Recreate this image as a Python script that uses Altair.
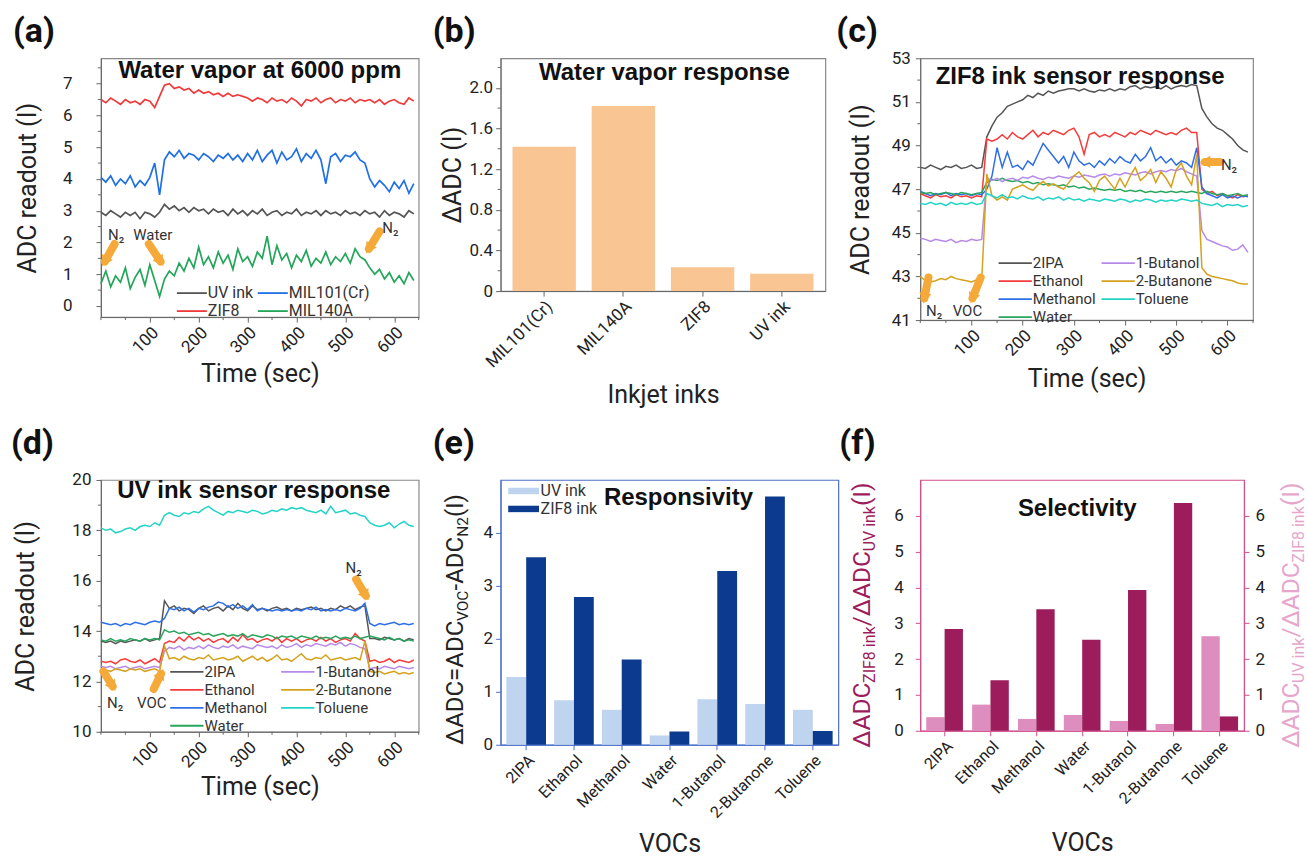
import math
import altair as alt
import pandas as pd

FONT = "Roboto"
BOLD_FONT = "Liberation Sans"
ORANGE = "#F4A938"

# ---------------- data ----------------
T = list(range(0, 641, 10))  # sample times (sec)

# (a) water vapor at 6000 ppm (legend order, filled column by column)
A_SERIES = ["UV ink", "ZIF8", "MIL101(Cr)", "MIL140A"]
A_COLORS = ["#555555", "#F03A3A", "#1F6FE5", "#23A55A"]
A_UV = [2.95, 2.85, 3.0, 2.9, 2.8, 2.95, 2.85, 2.95, 2.75, 2.95,
        2.9, 2.8, 2.95, 3.2, 3.05, 3.15, 3.0, 3.1, 2.95, 3.1,
        3.0, 3.05, 2.9, 3.05, 2.95, 3.0, 2.85, 3.05, 2.9, 3.0,
        2.85, 3.0, 2.9, 3.05, 2.85, 2.95, 3.0, 2.85, 2.95, 2.9,
        3.05, 2.85, 2.95, 2.9, 3.0, 2.85, 3.0, 2.9, 2.95, 2.85,
        3.0, 2.9, 2.95, 2.85, 3.0, 2.9, 2.95, 2.8, 3.0, 2.85,
        2.95, 2.9, 2.8, 3.0, 2.9]
A_MIL101 = [4.05, 3.9, 4.1, 3.8, 4.0, 3.85, 4.1, 3.75, 3.95, 3.8,
            4.05, 4.5, 3.5, 4.6, 4.85, 4.7, 4.9, 4.65, 4.8, 4.75,
            4.6, 4.8, 4.7, 4.55, 4.75, 4.65, 4.8, 4.6, 4.75, 4.55,
            4.8, 4.6, 4.9, 4.55, 4.75, 4.9, 4.5, 4.85, 4.6, 4.7,
            4.95, 4.55, 4.8, 4.65, 4.9, 4.6, 3.85, 4.7, 4.8, 4.55,
            4.75, 4.7, 4.85, 4.6, 4.5, 4.0, 3.75, 3.95, 3.8, 3.6,
            3.9, 3.7, 3.95, 3.55, 3.85]
A_ZIF8 = [6.5, 6.4, 6.55, 6.45, 6.35, 6.5, 6.4, 6.45, 6.35, 6.5,
          6.45, 6.25, 6.6, 6.95, 7.0, 6.85, 6.9, 6.8, 6.85, 6.7,
          6.8, 6.7, 6.75, 6.65, 6.7, 6.6, 6.7, 6.6, 6.65, 6.6,
          6.55, 6.45, 6.55, 6.5, 6.4, 6.55, 6.45, 6.5, 6.4, 6.55,
          6.45, 6.3, 6.5, 6.45, 6.55, 6.4, 6.5, 6.55, 6.4, 6.5,
          6.45, 6.55, 6.4, 6.5, 6.45, 6.5, 6.4, 6.5, 6.35, 6.45,
          6.5, 6.4, 6.35, 6.55, 6.45]
A_MIL140 = [0.7, 1.1, 0.6, 0.95, 0.75, 1.2, 0.55, 0.9, 1.15, 0.65,
            1.3, 0.8, 0.3, 0.85, 1.1, 0.95, 1.35, 1.1, 1.5, 1.2,
            1.85, 1.3, 1.55, 1.2, 1.7, 1.35, 1.6, 1.15, 1.8, 1.4,
            1.55, 1.25, 1.7, 1.5, 2.2, 1.3, 1.9, 1.45, 1.65, 1.2,
            1.6, 1.4, 1.75, 1.25, 1.5, 1.35, 1.7, 1.3, 1.55, 1.4,
            1.65, 1.35, 1.8, 1.55, 1.45, 1.2, 1.0, 1.15, 0.85, 1.05,
            0.75, 0.95, 0.7, 1.05, 0.8]

# (b) water vapor response
B_INKS = ["MIL101(Cr)", "MIL140A", "ZIF8", "UV ink"]
B_VALS = [1.42, 1.82, 0.235, 0.17]

# (c)/(d) VOC series
VOCS = ["2IPA", "Ethanol", "Methanol", "Water", "1-Butanol", "2-Butanone", "Toluene"]
VOC_COLORS = ["#555555", "#F53B3B", "#2F6FE6", "#2AA55E", "#B88AE8", "#D4A21C", "#22D3C8"]

C_2IPA = [48.0, 47.95, 48.1, 48.0, 47.9, 48.05, 48.0, 48.1, 47.95, 48.0,
          48.1, 47.95, 48.0, 49.4, 49.9, 50.3, 50.5, 50.8, 50.9, 51.0,
          51.1, 51.3, 51.2, 51.4, 51.3, 51.5, 51.4, 51.5, 51.55, 51.6,
          51.6, 51.5, 51.6, 51.5, 51.45, 51.55, 51.5, 51.6, 51.5, 51.6,
          51.55, 51.7, 51.75, 51.6, 51.7, 51.65, 51.7, 51.6, 51.75, 51.6,
          51.7, 51.75, 51.7, 51.8, 51.75, 50.7, 50.3, 50.0, 49.8, 49.7,
          49.5, 49.3, 49.0, 48.8, 48.7]
C_ETH = [46.8, 46.7, 46.6, 46.75, 46.65, 46.7, 46.6, 46.75, 46.65, 46.7,
         46.6, 46.7, 46.65, 49.3, 49.2, 49.3, 49.5, 49.3, 49.6, 49.4,
         49.3, 49.5, 49.7, 49.4, 49.6, 49.5, 49.7, 49.6, 49.5, 49.7,
         49.8, 49.4, 48.6, 49.5, 49.6, 49.4, 49.5, 49.4, 49.6, 49.5,
         49.4, 49.6, 49.5, 49.7, 49.6, 49.5, 49.7, 49.6, 49.5, 49.6,
         49.5, 49.7, 49.8, 49.6, 49.6, 47.0, 46.8, 46.9, 46.7, 46.8,
         46.7, 46.6, 46.75, 46.65, 46.7]
C_MET = [46.9, 46.8, 46.7, 46.8, 46.75, 46.85, 46.7, 46.8, 46.75, 46.8,
         46.7, 46.8, 46.75, 47.0, 47.6, 48.9, 48.0, 48.7, 48.0, 48.1,
         47.9, 48.3, 48.1, 48.6, 49.1, 48.8, 48.5, 48.2, 48.5, 48.0,
         48.7, 48.3, 48.1, 48.2, 48.0, 48.3, 48.1, 48.4, 48.2, 48.5,
         48.3, 48.2, 48.6, 48.3, 48.5, 48.9, 48.3, 48.5, 48.2, 48.4,
         48.1, 48.3, 48.2, 48.0, 48.9, 47.1, 46.8, 46.7, 46.6, 46.75,
         46.6, 46.7, 46.6, 46.7, 46.65]
C_WAT = [46.85, 46.8, 46.85, 46.75, 46.8, 46.85, 46.8, 46.75, 46.85, 46.8,
         46.75, 46.8, 46.85, 47.3, 47.45, 47.4, 47.5, 47.4, 47.35, 47.4,
         47.3, 47.35, 47.25, 47.3, 47.2, 47.25, 47.2, 47.15, 47.2, 47.1,
         47.15, 47.05, 47.1, 47.0, 47.05, 47.0, 46.95, 47.0, 46.95, 47.0,
         46.9, 46.95, 46.9, 46.95, 46.85, 46.9, 46.85, 46.9, 46.85, 46.9,
         46.85, 46.9, 46.85, 46.9, 46.85, 46.8, 46.9, 46.8, 46.75, 46.8,
         46.7, 46.75, 46.8, 46.7, 46.75]
C_TOL = [46.35, 46.3, 46.4, 46.3, 46.35, 46.25, 46.4, 46.3, 46.35, 46.3,
         46.4, 46.3, 46.35, 46.8, 46.7, 46.6, 46.75, 46.6, 46.65, 46.55,
         46.7, 46.6, 46.55, 46.65, 46.5, 46.6, 46.55, 46.65, 46.5, 46.6,
         46.5, 46.55, 46.45, 46.55, 46.5, 46.45, 46.55, 46.5, 46.45, 46.55,
         46.5, 46.4, 46.5, 46.45, 46.55, 46.5, 46.4, 46.5, 46.45, 46.5,
         46.45, 46.55, 46.5, 46.45, 46.5, 46.35, 46.3, 46.25, 46.35, 46.2,
         46.3, 46.25, 46.3, 46.2, 46.25]
C_BUT = [44.75, 44.7, 44.6, 44.7, 44.65, 44.6, 44.7, 44.55, 44.65, 44.6,
         44.7, 44.65, 44.7, 47.5, 47.4, 47.5, 47.35, 47.45, 47.5, 47.4,
         47.55, 47.5, 47.6, 47.5, 47.45, 47.55, 47.5, 47.6, 47.55, 47.5,
         47.6, 47.55, 47.65, 47.6, 47.55, 47.65, 47.7, 47.6, 47.7, 47.65,
         47.75, 47.7, 47.65, 47.75, 47.8, 47.7, 47.8, 47.85, 47.8, 47.9,
         47.85, 47.95, 47.8, 47.7, 47.6, 45.1, 44.7, 44.6, 44.5, 44.4,
         44.35, 44.2, 44.25, 44.45, 44.1]
C_BTN = [43.0, 42.8, 42.75, 42.8, 42.9, 42.85, 43.0, 42.9, 42.85, 42.8,
         42.75, 42.85, 42.8, 47.7, 46.7, 46.5, 46.65, 46.5, 47.0, 47.1,
         47.2, 47.05, 46.95, 47.2, 47.35, 47.15, 47.25, 47.1, 47.0, 47.3,
         47.6, 47.8, 47.5, 47.3, 46.9, 47.4, 47.6, 47.3, 47.0, 47.5,
         47.1, 47.6, 48.0, 47.4, 47.6, 47.9, 47.3, 47.8, 47.5, 47.1,
         47.9, 48.2, 47.6, 47.2, 48.6, 43.4, 43.1, 43.0, 42.95, 42.9,
         42.85, 42.8, 42.7, 42.65, 42.65]

D_2IPA = [13.6, 13.55, 13.6, 13.5, 13.6, 13.55, 13.6, 13.65, 13.6, 13.7,
          13.6, 13.65, 13.7, 15.2, 14.9, 15.0, 14.8, 14.9, 14.85, 14.7,
          14.9, 15.0, 14.8, 14.9, 14.95, 14.8, 15.0, 14.85, 15.1, 14.9,
          14.8, 15.0, 14.85, 14.9, 14.8, 14.9, 14.95, 14.85, 14.9, 14.8,
          14.9, 14.85, 14.9, 14.95, 14.85, 14.9, 14.8, 14.9, 14.85, 15.0,
          14.9, 15.0, 14.85, 14.95, 15.0, 13.7, 13.7, 13.65, 13.75, 13.7,
          13.65, 13.7, 13.6, 13.7, 13.65]
D_ETH = [12.8, 12.75, 12.8, 12.7, 12.85, 12.9, 12.8, 12.75, 12.85, 12.7,
         12.8, 12.9, 12.75, 13.5, 13.6, 13.55, 13.75, 13.6, 13.8, 13.65,
         13.75, 13.6, 13.7, 13.55, 13.65, 13.7, 13.55, 13.75, 13.6, 13.85,
         13.65, 13.7, 13.55, 13.65, 13.7, 13.6, 13.75, 13.55, 13.7, 13.6,
         13.7, 13.55, 13.65, 13.7, 13.6, 13.75, 13.6, 13.7, 13.55, 13.65,
         13.7, 13.6, 13.9, 13.7, 13.6, 12.8, 12.85, 12.75, 12.8, 12.9,
         12.75, 12.85, 12.8, 12.75, 12.85]
D_MET = [14.35, 14.3, 14.25, 14.3, 14.2, 14.3, 14.25, 14.35, 14.3, 14.25,
         14.35, 14.4, 14.35, 14.5, 14.9, 14.85, 14.95, 14.8, 14.9, 14.75,
         14.9, 14.85, 14.95, 15.0, 15.15, 15.1, 14.95, 15.05, 14.9, 15.0,
         14.85, 15.05, 14.8, 14.9, 14.85, 14.8, 14.85, 14.8, 14.85, 14.8,
         14.85, 14.8, 14.9, 14.85, 14.95, 14.8, 14.85, 14.8, 14.85, 14.8,
         14.9, 14.85, 14.8, 14.9, 15.1, 14.3, 14.2, 14.3, 14.25, 14.3,
         14.35, 14.25, 14.3, 14.25, 14.3]
D_WAT = [13.65, 13.6, 13.7, 13.6, 13.65, 13.6, 13.7, 13.65, 13.6, 13.7,
         13.65, 13.7, 13.65, 14.05, 13.95, 14.0, 13.9, 13.95, 13.85, 13.9,
         13.95, 13.85, 13.9, 13.8, 13.85, 13.9, 13.8, 13.85, 13.8, 13.9,
         13.75, 13.85, 13.8, 13.75, 13.85, 13.8, 13.7, 13.8, 13.75, 13.8,
         13.7, 13.8, 13.75, 13.7, 13.8, 13.7, 13.75, 13.7, 13.8, 13.7,
         13.75, 13.7, 13.8, 13.7, 13.75, 13.8, 13.75, 13.7, 13.65, 13.75,
         13.65, 13.7, 13.6, 13.65, 13.6]
D_BUT = [12.6, 12.55, 12.6, 12.5, 12.55, 12.6, 12.5, 12.55, 12.6, 12.5,
         12.55, 12.6, 12.55, 13.2, 13.35, 13.3, 13.4, 13.25, 13.35, 13.3,
         13.4, 13.3, 13.45, 13.35, 13.3, 13.4, 13.35, 13.45, 13.3, 13.4,
         13.35, 13.3, 13.45, 13.4, 13.35, 13.4, 13.3, 13.45, 13.35, 13.4,
         13.5, 13.35, 13.45, 13.4, 13.5, 13.45, 13.4, 13.5, 13.45, 13.55,
         13.4, 13.5, 13.45, 13.35, 13.3, 12.5, 12.55, 12.5, 12.6, 12.55,
         12.5, 12.6, 12.55, 12.5, 12.55]
D_BTN = [12.5, 12.45, 12.4, 12.5, 12.45, 12.4, 12.5, 12.45, 12.5, 12.4,
         12.45, 12.5, 12.4, 13.4, 12.9, 12.95, 12.85, 13.0, 12.9, 12.85,
         12.95, 12.9, 13.05, 12.85, 12.9, 12.95, 12.85, 12.9, 13.0, 12.8,
         12.9, 13.0, 12.85, 12.95, 12.8, 12.9, 13.05, 12.85, 12.9, 12.8,
         12.95, 13.1, 12.9, 12.85, 12.95, 12.9, 13.05, 12.85, 12.9, 12.95,
         12.85, 12.9, 12.95, 12.85, 13.6, 12.4, 12.35, 12.4, 12.3, 12.35,
         12.4, 12.3, 12.35, 12.3, 12.35]
D_TOL = [18.1, 18.0, 18.05, 17.9, 17.95, 18.05, 18.1, 18.0, 18.15, 18.2,
         18.15, 18.3, 18.2, 18.6, 18.7, 18.6, 18.55, 18.7, 18.65, 18.75,
         18.7, 18.85, 18.95, 18.8, 18.7, 18.6, 18.75, 18.7, 18.8, 18.75,
         18.7, 18.8, 18.75, 18.65, 18.7, 18.8, 18.75, 18.85, 18.8, 18.9,
         18.85, 18.9, 18.8, 18.75, 18.7, 18.8, 18.65, 18.95, 18.7, 18.75,
         18.8, 18.65, 18.7, 18.6, 18.55, 18.3, 18.2, 18.15, 18.2, 18.3,
         18.1, 18.25, 18.35, 18.2, 18.15]

# (e) responsivity
E_UV = [1.28, 0.84, 0.66, 0.175, 0.86, 0.77, 0.66]
E_ZIF8 = [3.54, 2.79, 1.61, 0.25, 3.28, 4.69, 0.26]

# (f) selectivity
F_ZIF8_UV = [2.84, 1.41, 3.39, 2.54, 3.93, 6.36, 0.40]
F_UV_ZIF8 = [0.38, 0.73, 0.33, 0.44, 0.27, 0.19, 2.64]

# annotations (time, value, text) and arrows (tail t, tail v, head t, head v)
A_NOTES = [(31, 2.25, "N\u2082"), (106, 2.25, "Water"), (592, 2.45, "N\u2082")]
A_ARROWS = [(28, 1.95, 8, 1.4), (98, 1.95, 122, 1.4), (570, 2.35, 548, 1.8)]
C_NOTES = [(27, 41.4, "N\u2082"), (92, 41.4, "VOC"), (603, 48.1, "N\u2082")]
C_ARROWS = [(16, 42.95, 8, 42.0), (118, 42.95, 102, 42.0), (585, 48.25, 556, 48.25)]
D_NOTES = [(29, 11.15, "N\u2082"), (104, 11.15, "VOC"), (517, 16.5, "N\u2082")]
D_ARROWS = [(5, 12.4, 24, 11.8), (108, 11.7, 123, 12.3), (522, 16.05, 542, 15.4)]

# minor tick positions
MINOR_T = [0, 50, 150, 250, 350, 450, 550, 650]
A_MINOR_Y = [0.5, 1.5, 2.5, 3.5, 4.5, 5.5, 6.5, 7.5]
B_MINOR_Y = [0.2, 0.6, 1.0, 1.4, 1.8, 2.2]
C_MINOR_Y = [42, 44, 46, 48, 50, 52]
D_MINOR_Y = [11, 13, 15, 17, 19]

# ---------------- helpers ----------------
ONE = pd.DataFrame({"k": [0]})

ROBOTO_W = {"\u0394": 0.69, "A": 0.652, "D": 0.655, "C": 0.652, "=": 0.55, "V": 0.636,
            "O": 0.688, "-": 0.276, "N": 0.713, "2": 0.562, " ": 0.248, "(": 0.342,
            "I": 0.279, ")": 0.348, "Z": 0.6, "F": 0.553, "8": 0.562, "i": 0.243,
            "n": 0.552, "k": 0.507, "U": 0.648, "/": 0.411}


def text_w(s, size):
    return sum(ROBOTO_W.get(c, 0.55) for c in s) * size


def series_df(names, arrays):
    rows = []
    for n, arr in zip(names, arrays):
        assert len(arr) == len(T), n
        for t, v in zip(T, arr):
            rows.append({"t": t, "v": v, "s": n})
    return pd.DataFrame(rows)


def txt(text, x, y, size, bold=False, align="left", baseline="top", font=FONT,
        color="#111111", angle=None):
    kw = dict(text=text, font=font, fontSize=size, align=align, baseline=baseline,
              color=color, fontWeight="bold" if bold else "normal")
    if angle is not None:
        kw["angle"] = angle
    return alt.Chart(ONE).mark_text(**kw).encode(x=alt.value(x), y=alt.value(y))


def panel_label(s, x, y):
    return txt(s, x, y, 34, bold=True, font=FONT)


def inner_title(s, x, y):
    return txt(s, x, y, 24, bold=True, align="center", baseline="middle", font=BOLD_FONT)


def rot_title(segs, x, y_bottom, color, main=22, sub=14):
    out = []
    y = y_bottom
    for s, is_sub in segs:
        fs = sub if is_sub else main
        out.append(txt(s, x + (5 if is_sub else 0), y, fs, align="left",
                       baseline="alphabetic", color=color, angle=270))
        y -= text_w(s, fs)
    return out


def line_legend(x, y, half, col_pad, font_size):
    return alt.Legend(orient="none", legendX=x, legendY=y, columns=2, title=None,
                      symbolType=f"M-{half},0H{half}", symbolSize=324, symbolStrokeWidth=1.8,
                      labelFontSize=font_size, columnPadding=col_pad, rowPadding=-1,
                      labelOffset=9 * half - 9, labelColor="#333333", padding=0)


def minor_ticks(xvals, yvals, xs, ys, xax, yax, h):
    out = []
    if xvals:
        out.append(alt.Chart(pd.DataFrame({"t": xvals})).mark_rule(color="#666666").encode(
            x=alt.X("t:Q", scale=xs, axis=xax), y=alt.value(h), y2=alt.value(h + 3)))
    if yvals:
        out.append(alt.Chart(pd.DataFrame({"v": yvals})).mark_rule(color="#666666").encode(
            y=alt.Y("v:Q", scale=ys, axis=yax), x=alt.value(0), x2=alt.value(-3)))
    return out


def annotations(notes, arrows, xsc, ysc, xax, yax, pxx, pxy):
    ndf = pd.DataFrame(notes, columns=["t", "v", "label"])
    adf = pd.DataFrame(arrows, columns=["t", "v", "t2", "v2"])
    adf["ang"] = [(math.degrees(math.atan2(-(r.v2 - r.v) * pxy, (r.t2 - r.t) * pxx)) + 90) % 360
                  for r in adf.itertuples()]
    texts = alt.Chart(ndf).mark_text(font=FONT, fontSize=15, color="#333333").encode(
        x=alt.X("t:Q", scale=xsc, axis=xax), y=alt.Y("v:Q", scale=ysc, axis=yax), text="label:N")
    rule = alt.Chart(adf).mark_rule(color=ORANGE, strokeWidth=8, strokeCap="round").encode(
        x=alt.X("t:Q", scale=xsc, axis=xax), y=alt.Y("v:Q", scale=ysc, axis=yax),
        x2="t2:Q", y2="v2:Q")
    head = alt.Chart(adf).mark_point(shape="triangle-up", filled=True, color=ORANGE,
                                     opacity=1, size=150).encode(
        x=alt.X("t2:Q", scale=xsc, axis=xax), y=alt.Y("v2:Q", scale=ysc, axis=yax),
        angle=alt.Angle("ang:Q", scale=None))
    return [rule, head, texts]


def time_axis(tp):
    return alt.Axis(values=[100, 200, 300, 400, 500, 600], labelAngle=-45, title="Time (sec)",
                    titlePadding=tp, labelPadding=2)


# ---------------- panel (a) ----------------
AW, AH = 318, 259
a_xs = alt.Scale(domain=[0, 650], nice=False, zero=False)
a_ys = alt.Scale(domain=[-0.35, 7.8], nice=False, zero=False)
a_xax = time_axis(6)
a_yax = alt.Axis(values=list(range(0, 8)), title="ADC readout (I)", labelPadding=24, titlePadding=22)
a_df = series_df(A_SERIES, [A_UV, A_ZIF8, A_MIL101, A_MIL140])
a_lines = alt.Chart(a_df).mark_line(strokeWidth=1.7).encode(
    x=alt.X("t:Q", scale=a_xs, axis=a_xax),
    y=alt.Y("v:Q", scale=a_ys, axis=a_yax),
    color=alt.Color("s:N", scale=alt.Scale(domain=A_SERIES, range=A_COLORS),
                    legend=line_legend(81, 225, 1.67, 0, 16)),
    detail="s:N")
panel_a = alt.layer(
    a_lines,
    *minor_ticks(MINOR_T, A_MINOR_Y, a_xs, a_ys, a_xax, a_yax, AH),
    *annotations(A_NOTES, A_ARROWS, a_xs, a_ys, a_xax, a_yax, AW / 650, AH / 8.15),
    inner_title("Water vapor at 6000 ppm", 159, 13),
    panel_label("(a)", -88, -43),
).properties(width=AW, height=AH, view=alt.ViewBackground(stroke="#888888", strokeWidth=1.2))

# ---------------- panel (b) ----------------
BW, BH = 325, 233
b_df = pd.DataFrame({"ink": B_INKS, "v": B_VALS})
b_ys = alt.Scale(domain=[0, 2.29], nice=False)
b_yax = alt.Axis(values=[0, 0.4, 0.8, 1.2, 1.6, 2.0],
                 labelExpr="datum.value == 0 ? '0' : format(datum.value, '.1f')",
                 title="\u0394ADC (I)", titlePadding=4, labelPadding=3)
b_bars = alt.Chart(b_df).mark_bar(color="#F9C592").encode(
    x=alt.X("ink:N", sort=B_INKS, scale=alt.Scale(paddingInner=0.2, paddingOuter=0.15),
            axis=alt.Axis(labelAngle=-45, title="Inkjet inks", titlePadding=12, labelFontSize=17)),
    y=alt.Y("v:Q", scale=b_ys, axis=b_yax))
b_minor = alt.Chart(pd.DataFrame({"v": B_MINOR_Y})).mark_rule(color="#666666").encode(
    y=alt.Y("v:Q", scale=b_ys, axis=b_yax), x=alt.value(0), x2=alt.value(-3))
panel_b = alt.layer(
    b_bars, b_minor,
    inner_title("Water vapor response", 164, 15),
    panel_label("(b)", -68, -43),
).properties(width=BW, height=BH, view=alt.ViewBackground(stroke="#888888", strokeWidth=1.2))


# ---------------- panels (c) and (d) ----------------
def voc_panel(arrays, w, h, ydom, yvals, yminor, ytp, xtp, legx, legy, colpad, notes, arrows,
              title, tx, ty, lab, lx, ly):
    xs = alt.Scale(domain=[0, 650], nice=False, zero=False)
    ys = alt.Scale(domain=ydom, nice=False, zero=False)
    xax = time_axis(xtp)
    yax = alt.Axis(values=yvals, title="ADC readout (I)", titlePadding=ytp, labelPadding=5)
    df = series_df(VOCS, arrays)
    lines = alt.Chart(df).mark_line(strokeWidth=1.5).encode(
        x=alt.X("t:Q", scale=xs, axis=xax),
        y=alt.Y("v:Q", scale=ys, axis=yax),
        color=alt.Color("s:N", scale=alt.Scale(domain=VOCS, range=VOC_COLORS),
                        legend=line_legend(legx, legy, 1.85, colpad, 15)),
        detail="s:N")
    return alt.layer(
        lines,
        *minor_ticks(MINOR_T, yminor, xs, ys, xax, yax, h),
        *annotations(notes, arrows, xs, ys, xax, yax, w / 650, h / (ydom[1] - ydom[0])),
        inner_title(title, tx, ty),
        panel_label(lab, lx, ly),
    ).properties(width=w, height=h, view=alt.ViewBackground(stroke="#888888", strokeWidth=1.2))


panel_c = voc_panel([C_2IPA, C_ETH, C_MET, C_WAT, C_BUT, C_BTN, C_TOL], 333, 262, [41, 53],
                    [41, 43, 45, 47, 49, 51, 53], C_MINOR_Y, 18, 8, 85, 195, 1,
                    C_NOTES, C_ARROWS, "ZIF8 ink sensor response", 160, 19, "(c)", -84, -43)
panel_d = voc_panel([D_2IPA, D_ETH, D_MET, D_WAT, D_BUT, D_BTN, D_TOL], 318, 252, [10, 20],
                    [10, 12, 14, 16, 18, 20], D_MINOR_Y, 33, 4, 76, 182, 9,
                    D_NOTES, D_ARROWS, "UV ink sensor response", 153, 11, "(d)", -90, -53)

# ---------------- panel (e) ----------------
EW, EH = 338, 265
E_BLUE = "#4C6FC8"
e_rows = []
for i, voc in enumerate(VOCS):
    e_rows.append({"voc": voc, "ink": "UV ink", "v": E_UV[i]})
    e_rows.append({"voc": voc, "ink": "ZIF8 ink", "v": E_ZIF8[i]})
e_df = pd.DataFrame(e_rows)
e_bars = alt.Chart(e_df).mark_bar().encode(
    x=alt.X("voc:N", sort=VOCS, scale=alt.Scale(paddingInner=0.17, paddingOuter=0.12),
            axis=alt.Axis(labelAngle=-45, title="VOCs", titlePadding=11, labelFontSize=16,
                          domainColor=E_BLUE, tickColor=E_BLUE)),
    xOffset=alt.XOffset("ink:N", sort=["UV ink", "ZIF8 ink"],
                        scale=alt.Scale(paddingInner=0, paddingOuter=0)),
    y=alt.Y("v:Q", scale=alt.Scale(domain=[0, 5], nice=False),
            axis=alt.Axis(values=[0, 1, 2, 3, 4], title=None, labelPadding=3,
                          domainColor=E_BLUE, tickColor=E_BLUE)),
    color=alt.Color("ink:N", scale=alt.Scale(domain=["UV ink", "ZIF8 ink"],
                                             range=["#BFD4EE", "#0B3A8E"]),
                    legend=alt.Legend(orient="none", legendX=15, legendY=3, title=None,
                                      symbolType="M-2.2,-0.46H2.2V0.46H-2.2Z", symbolSize=196,
                                      symbolStrokeWidth=0, labelFontSize=16, rowPadding=2,
                                      labelOffset=9, labelColor="#333333", padding=0)))
e_title = rot_title([("\u0394ADC=ADC", False), ("VOC", True), ("-ADC", False),
                     ("N2", True), (" (I)", False)], -38, 265, "#222222", main=24, sub=15.5)
panel_e = alt.layer(
    e_bars, *e_title,
    inner_title("Responsivity", 178, 18),
    panel_label("(e)", -68, -53),
).properties(width=EW, height=EH, view=alt.ViewBackground(stroke=E_BLUE, strokeWidth=1.2))

# ---------------- panel (f) ----------------
FW, FH = 324, 251
F_PINK = "#D4508C"
F_DARK = "#9C1C5C"
F_LIGHT = "#DD8DBE"
f_rows = []
for i, voc in enumerate(VOCS):
    f_rows.append({"voc": voc, "ratio": "UV/ZIF8", "v": F_UV_ZIF8[i]})
    f_rows.append({"voc": voc, "ratio": "ZIF8/UV", "v": F_ZIF8_UV[i]})
f_df = pd.DataFrame(f_rows)
f_x = alt.X("voc:N", sort=VOCS, scale=alt.Scale(paddingInner=0.2, paddingOuter=0.13),
            axis=alt.Axis(labelAngle=-45, title="VOCs", titlePadding=24, labelFontSize=16,
                          domainColor=F_PINK, tickColor=F_PINK))
f_xo = alt.XOffset("ratio:N", sort=["UV/ZIF8", "ZIF8/UV"],
                   scale=alt.Scale(paddingInner=0, paddingOuter=0))
f_left = alt.Chart(f_df).mark_bar().encode(
    x=f_x, xOffset=f_xo,
    y=alt.Y("v:Q", scale=alt.Scale(domain=[0, 7], nice=False),
            axis=alt.Axis(values=[0, 1, 2, 3, 4, 5, 6], title=None, labelPadding=12,
                          domainColor=F_PINK, tickColor=F_PINK)),
    color=alt.Color("ratio:N", scale=alt.Scale(domain=["UV/ZIF8", "ZIF8/UV"],
                                               range=[F_LIGHT, F_DARK]), legend=None))
f_right = alt.Chart(f_df).mark_bar(opacity=0).encode(
    x=f_x, xOffset=f_xo,
    y=alt.Y("v:Q", scale=alt.Scale(domain=[0, 7], nice=False),
            axis=alt.Axis(values=[0, 1, 2, 3, 4, 5, 6], title=None, orient="right",
                          labelPadding=6, domainColor=F_PINK, tickColor=F_PINK)))
f_ltitle = rot_title([("\u0394ADC", False), ("ZIF8 ink", True), ("/\u0394ADC", False),
                      ("UV ink", True), (" (I)", False)], -50, 268, F_DARK, main=24.5, sub=16)
f_rtitle = rot_title([("\u0394ADC", False), ("UV ink", True), ("/\u0394ADC", False),
                      ("ZIF8 ink", True), (" (I)", False)], 379, 268, "#E6A6CB", main=24.5, sub=16)
panel_f = alt.layer(
    f_left, f_right, *f_ltitle, *f_rtitle,
    inner_title("Selectivity", 157, 29),
    panel_label("(f)", -81, -53),
).resolve_scale(y="independent").properties(
    width=FW, height=FH, view=alt.ViewBackground(stroke=F_PINK, strokeWidth=1.2))

# ---------------- layout ----------------
chart = alt.concat(panel_a, panel_b, panel_c, panel_d, panel_e, panel_f, columns=3,
                   spacing={"row": 160, "column": 82}, bounds="flush").resolve_scale(
    color="independent", xOffset="independent"
).properties(
    padding={"left": 10, "top": 14, "right": 0, "bottom": 0},
    background="white",
).configure(font=FONT).configure_axis(
    labelFont=FONT, titleFont=FONT, labelFontSize=17, titleFontSize=25,
    titleFontWeight="normal", labelColor="#222222", titleColor="#222222",
    domainColor="#666666", tickColor="#666666", grid=False, tickSize=5,
    labelOverlap=False, labelFlush=False,
).configure_view(stroke="#888888", strokeWidth=1.2).configure_legend(labelFont=FONT)

chart.save("out.html", embed_options={"renderer": "svg", "actions": False})
